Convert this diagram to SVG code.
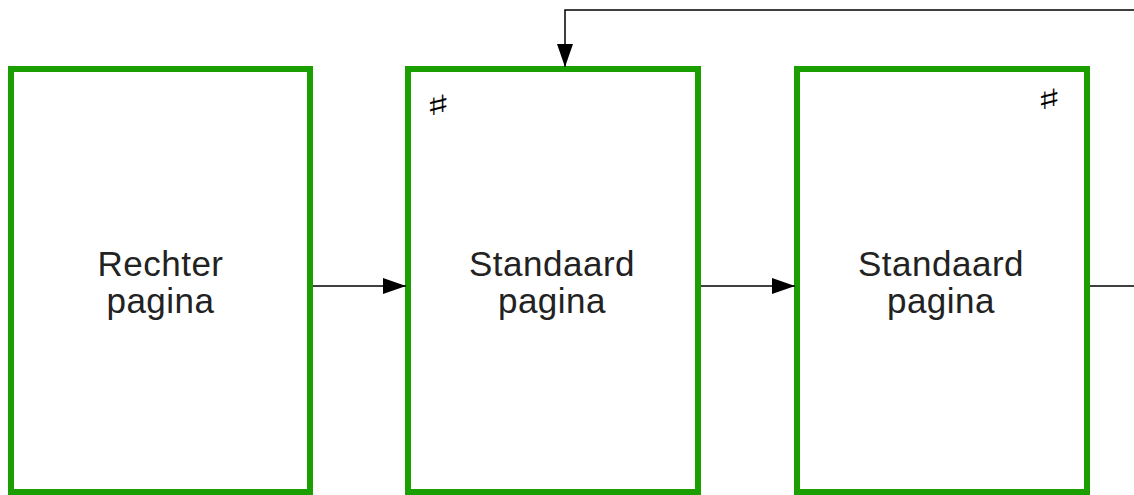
<svg xmlns="http://www.w3.org/2000/svg" width="1134" height="495" viewBox="0 0 1134 495">
<defs>
<marker id="ah" markerWidth="23" markerHeight="16" refX="23" refY="8" orient="auto" markerUnits="userSpaceOnUse">
<path d="M0,0 L23,8 L0,16 Z" fill="#000"/>
</marker>
<style>
.box{fill:#fff;stroke:#1a9e00;stroke-width:6}
.lbl{font-family:"Liberation Sans",Arial,sans-serif;font-size:35px;letter-spacing:0.5px;fill:#222;text-anchor:middle}
.sym{font-family:"DejaVu Sans",sans-serif;font-size:28px;fill:#000;text-anchor:middle}
.con{fill:none;stroke:#000;stroke-width:1.5}
</style>
</defs>
<rect width="1134" height="495" fill="#fff"/>
<g id="node1">
<rect class="box" x="11" y="69" width="299" height="423"/>
<text class="lbl" x="160.5" y="276">Rechter</text>
<text class="lbl" x="160.5" y="313">pagina</text>
</g>
<g id="node2">
<rect class="box" x="408" y="69" width="290" height="423"/>
<text class="sym" transform="translate(438,115) scale(1.8,1)">♯</text>
<text class="lbl" x="552" y="276">Standaard</text>
<text class="lbl" x="552" y="313">pagina</text>
</g>
<g id="node3">
<rect class="box" x="797" y="69" width="290" height="423"/>
<text class="sym" transform="translate(1049,109) scale(1.8,1)">♯</text>
<text class="lbl" x="941" y="276">Standaard</text>
<text class="lbl" x="941" y="313">pagina</text>
</g>
<g id="connectors">
<path class="con" d="M313,286 H406" marker-end="url(#ah)"/>
<path class="con" d="M701,286 H795" marker-end="url(#ah)"/>
<path class="con" d="M1090,286 H1134"/>
<path class="con" d="M1134,10 H565 V67" marker-end="url(#ah)"/>
</g>
</svg>
